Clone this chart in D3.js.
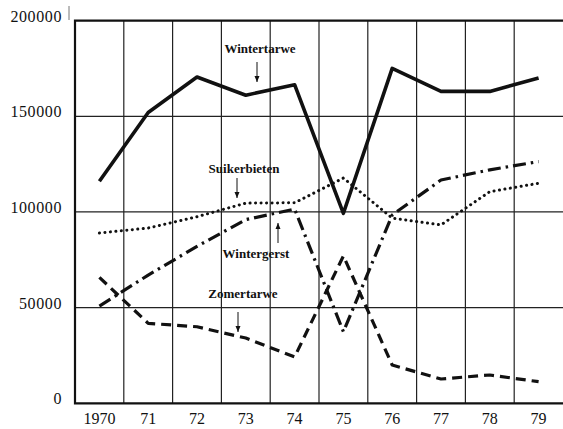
<!DOCTYPE html>
<html lang="nl">
<head>
    <meta charset="utf-8">
    <title>Akkerbouw 1970-79</title>
    <script type="text/javascript" src="https://d3js.org/d3.v7.min.js"></script>
    <style>
        body { margin: 0; background: #fff; }
        svg { display: block; }
        .tick-label { font-family: "Liberation Serif", serif; font-size: 16px; fill: #111; }
        .series-label { font-family: "Liberation Serif", serif; font-size: 13px; font-weight: bold; fill: #111; }
    </style>
</head>
<body>
    <div id="viz"></div>

    <script type="text/javascript">
        // data
        const years = ["1970", "71", "72", "73", "74", "75", "76", "77", "78", "79"];
        const yTicks = [0, 50000, 100000, 150000, 200000];

        const wintertarwe  = [116000, 152000, 170500, 161000, 166500, 99300, 175000, 163000, 163000, 170000];
        const suikerbieten = [89000, 91600, 97500, 104600, 104800, 117700, 96800, 93200, 110600, 115000];
        const wintergerst  = [50800, 67000, 82000, 96000, 101500, 37400, 98400, 116700, 122000, 126300];
        const zomertarwe   = [65800, 41800, 40000, 34100, 24200, 77000, 20000, 12700, 14800, 11300];

        const width = 563;
        const height = 429;
        const margin = {top: 20.6, right: 0, bottom: 25.7, left: 75};

        const svg = d3.select("#viz")
            .append("svg")
            .attr("width", width)
            .attr("height", height);

        const xScale = d3.scaleBand()
            .domain(years)
            .range([margin.left, width - margin.right]);

        const yScale = d3.scaleLinear()
            .domain([0, 200000])
            .range([height - margin.bottom, margin.top]);

        const cx = d => xScale(d) + xScale.bandwidth() / 2;

        // grid
        const grid = svg.append("g").attr("class", "grid");
        grid.selectAll("line.h")
            .data(yTicks.filter(t => t > 0 && t < 200000))
            .enter()
            .append("line")
                .attr("x1", margin.left)
                .attr("x2", width)
                .attr("y1", d => yScale(d))
                .attr("y2", d => yScale(d))
                .attr("stroke", "#222")
                .attr("stroke-width", 1.2);
        grid.selectAll("line.v")
            .data(years.slice(1))
            .enter()
            .append("line")
                .attr("x1", d => xScale(d))
                .attr("x2", d => xScale(d))
                .attr("y1", yScale(200000))
                .attr("y2", yScale(0))
                .attr("stroke", "#222")
                .attr("stroke-width", 1.2);

        // frame: top, left, bottom
        svg.append("path")
            .attr("d", `M${width},${yScale(200000)}H${margin.left}V${yScale(0)}H${width}`)
            .attr("fill", "none")
            .attr("stroke", "#111")
            .attr("stroke-width", 2.2);

        // little scan mark next to top label
        svg.append("line")
            .attr("x1", 69).attr("x2", 69)
            .attr("y1", 6).attr("y2", 20)
            .attr("stroke", "#777")
            .attr("stroke-width", 1);

        // y tick labels
        svg.append("g")
            .selectAll("text")
            .data(yTicks)
            .enter()
            .append("text")
                .attr("class", "tick-label")
                .attr("font-family", "Liberation Serif")
                .attr("x", 62)
                .attr("y", d => yScale(d) + 1)
                .attr("text-anchor", "end")
                .attr("letter-spacing", "0.6")
                .text(d => d);

        // x tick labels
        svg.append("g")
            .selectAll("text")
            .data(years)
            .enter()
            .append("text")
                .attr("class", "tick-label")
                .attr("font-family", "Liberation Serif")
                .attr("x", d => cx(d))
                .attr("y", 424)
                .attr("text-anchor", "middle")
                .text(d => d);

        const series = [
            {values: wintertarwe,  width: 3.6, dash: null,          cap: "butt"},
            {values: suikerbieten, width: 3.0, dash: "0.1,5.4",     cap: "round"},
            {values: wintergerst,  width: 3.2, dash: "13,5,2.5,5",  cap: "butt"},
            {values: zomertarwe,   width: 3.2, dash: "10,6",        cap: "butt"}
        ];

        const line = d3.line()
            .x((d, i) => cx(years[i]))
            .y(d => yScale(d));

        svg.append("g")
            .selectAll("path")
            .data(series)
            .enter()
            .append("path")
                .attr("d", d => line(d.values))
                .attr("fill", "none")
                .attr("stroke", "#111")
                .attr("stroke-width", d => d.width)
                .attr("stroke-dasharray", d => d.dash)
                .attr("stroke-linecap", d => d.cap)
                .attr("stroke-linejoin", "round");

        // series labels with arrows
        const labels = [
            {text: "Wintertarwe",  x: 260, y: 53,  ax: 257, ay1: 62,  ay2: 82},
            {text: "Suikerbieten", x: 244, y: 173, ax: 237, ay1: 178, ay2: 198},
            {text: "Wintergerst",  x: 256, y: 258, ax: 278, ay1: 243, ay2: 223},
            {text: "Zomertarwe",   x: 243, y: 298, ax: 238, ay1: 312, ay2: 332}
        ];

        const lab = svg.append("g");
        lab.selectAll("text")
            .data(labels)
            .enter()
            .append("text")
                .attr("class", "series-label")
                .attr("x", d => d.x)
                .attr("y", d => d.y)
                .attr("text-anchor", "middle")
                .text(d => d.text);

        lab.selectAll("line")
            .data(labels)
            .enter()
            .append("line")
                .attr("x1", d => d.ax)
                .attr("x2", d => d.ax)
                .attr("y1", d => d.ay1)
                .attr("y2", d => d.ay2)
                .attr("stroke", "#111")
                .attr("stroke-width", 1);

        lab.selectAll("path")
            .data(labels)
            .enter()
            .append("path")
                .attr("d", d => {
                    const s = d.ay2 > d.ay1 ? -1 : 1;
                    return `M${d.ax},${d.ay2}L${d.ax - 2.5},${d.ay2 + s * 6}L${d.ax + 2.5},${d.ay2 + s * 6}Z`;
                })
                .attr("fill", "#111");
    </script>
</body>
</html>
